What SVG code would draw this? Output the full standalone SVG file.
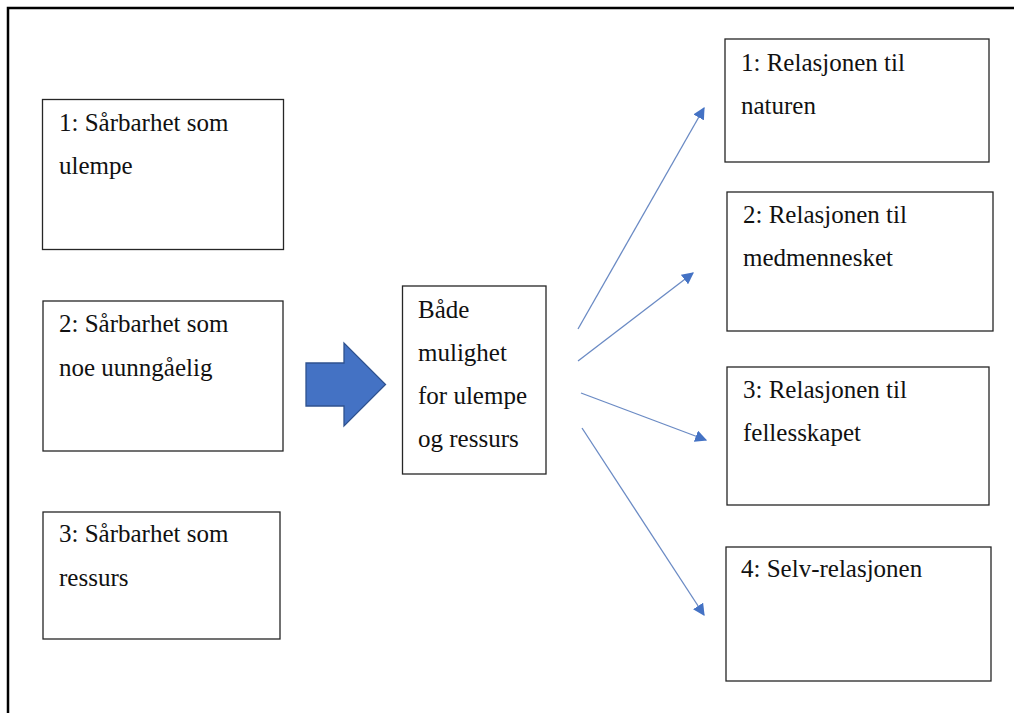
<svg xmlns="http://www.w3.org/2000/svg" width="1014" height="713" viewBox="0 0 1014 713">
<defs>
<style>
.frame{fill:none;stroke:#000;stroke-width:2.5}
.box{fill:#fff;stroke:#262626;stroke-width:1.3}
text{font-family:'Liberation Serif','Times New Roman',serif;font-size:25px;fill:#111}
.conn{stroke:#6a8ac4;stroke-width:1.3;fill:none;marker-end:url(#ah)}
</style>
<marker id="ah" viewBox="0 0 10 10" refX="9" refY="5" markerWidth="12" markerHeight="12" markerUnits="userSpaceOnUse" orient="auto">
<path d="M0,0 L10,5 L0,10 z" fill="#4472c4"/>
</marker>
</defs>
<rect width="1014" height="713" fill="#fff"/>
<path class="frame" d="M8,713 L8,8 L1014,8"/>
<g id="left1"><rect class="box" x="42.5" y="99.5" width="241" height="150"/>
<text x="59" y="131">1: Sårbarhet som</text><text x="59" y="174">ulempe</text></g>
<g id="left2"><rect class="box" x="43" y="301" width="240" height="150"/>
<text x="59" y="332">2: Sårbarhet som</text><text x="59" y="376">noe uunngåelig</text></g>
<g id="left3"><rect class="box" x="43" y="512" width="237" height="127"/>
<text x="59" y="542">3: Sårbarhet som</text><text x="59" y="586">ressurs</text></g>
<g id="blockArrow"><path d="M306,363 L344,363 L344,343 L385.5,384.5 L344,426 L344,406 L306,406 Z" fill="#4472c4" stroke="#2f528f" stroke-width="1.3"/></g>
<g id="center"><rect class="box" x="402.5" y="286" width="143.5" height="188"/>
<text x="418" y="318">Både</text><text x="418" y="361">mulighet</text><text x="418" y="404">for ulempe</text><text x="418" y="447">og ressurs</text></g>
<g id="right1"><rect class="box" x="725" y="39" width="264" height="123"/>
<text x="741" y="71">1: Relasjonen til</text><text x="741" y="114">naturen</text></g>
<g id="right2"><rect class="box" x="727" y="192" width="266" height="139"/>
<text x="743" y="223">2: Relasjonen til</text><text x="743" y="266">medmennesket</text></g>
<g id="right3"><rect class="box" x="727" y="367" width="262" height="138"/>
<text x="743" y="398">3: Relasjonen til</text><text x="743" y="441">fellesskapet</text></g>
<g id="right4"><rect class="box" x="726" y="547" width="265" height="134"/>
<text x="741" y="577">4: Selv-relasjonen</text></g>
<g id="connectors">
<line class="conn" x1="578" y1="329" x2="704" y2="108"/>
<line class="conn" x1="578" y1="361" x2="693" y2="273"/>
<line class="conn" x1="581" y1="393" x2="706" y2="440"/>
<line class="conn" x1="582" y1="428" x2="704" y2="615"/>
</g>
</svg>
